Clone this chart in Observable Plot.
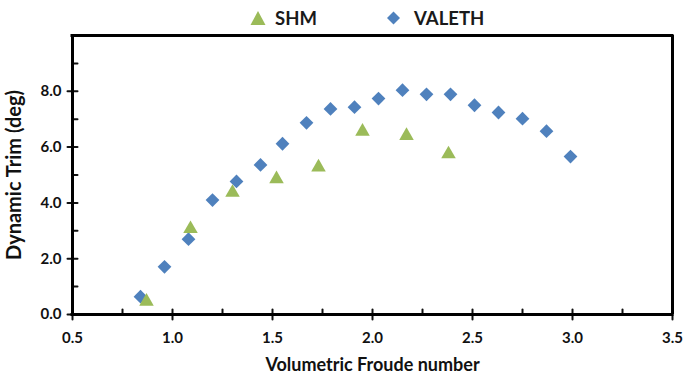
<!DOCTYPE html>
<html>
<head>
<meta charset="utf-8">
<script src="https://cdn.jsdelivr.net/npm/d3@7"></script>
<script src="https://cdn.jsdelivr.net/npm/@observablehq/plot@0.6"></script>
<style>
  html, body { margin: 0; padding: 0; background: #fff; }
  #wrap { position: relative; width: 686px; height: 378px; font-family: Lato, "Open Sans", sans-serif; }
  #legend { position: absolute; top: 5px; left: 0; width: 686px; height: 26px; font-weight: 700; font-size: 18.5px; color: #1a1a1a; }
  .item { position: absolute; top: 0; height: 26px; }
  .item svg { position: absolute; top: 5px; left: 0; }
  .item span { position: absolute; top: 0; line-height: 26px; white-space: nowrap; }
</style>
</head>
<body>
<div id="wrap">
  <div id="legend"></div>
</div>
<script>
// ---- data ----
const seriesNames = ["SHM", "VALETH"];
const shmFroude = [0.87, 1.09, 1.30, 1.52, 1.73, 1.95, 2.17, 2.38];
const shmTrim   = [0.54, 3.14, 4.44, 4.93, 5.35, 6.63, 6.48, 5.82];
const valethFroude = [0.84, 0.96, 1.08, 1.20, 1.32, 1.44, 1.55, 1.67, 1.79, 1.91, 2.03, 2.15, 2.27, 2.39, 2.51, 2.63, 2.75, 2.87, 2.99];
const valethTrim   = [0.64, 1.71, 2.70, 4.10, 4.77, 5.36, 6.12, 6.87, 7.37, 7.43, 7.74, 8.04, 7.89, 7.89, 7.50, 7.24, 7.02, 6.57, 5.66];
const xMajorTicks = [0.5, 1.0, 1.5, 2.0, 2.5, 3.0, 3.5];
const xMinorTicks = [0.75, 1.25, 1.75, 2.25, 2.75, 3.25];
const yMajorTicks = [0, 2, 4, 6, 8];
const yMinorTicks = [1, 3, 5, 7, 9];
const xTitle = "Volumetric Froude number";
const yTitle = "Dynamic Trim (deg)";

const shm = shmFroude.map((x, i) => ({x, y: shmTrim[i]}));
const valeth = valethFroude.map((x, i) => ({x, y: valethTrim[i]}));

const BLUE = "#4F81BD", GREEN = "#9BBB59", INK = "#111";
const FONT = 'Lato, "Open Sans", sans-serif';

const line = {draw(ctx, l) { ctx.moveTo(0, 0); ctx.lineTo(0, -l); }};

const chart = Plot.plot({
  width: 686,
  height: 378,
  marginLeft: 72,
  marginRight: 14,
  marginTop: 35,
  marginBottom: 64,
  style: {fontFamily: FONT, color: INK, background: "#fff"},
  x: {domain: [0.5, 3.5], axis: null},
  y: {domain: [0, 10], axis: null},
  marks: [
    // minor ticks (inward)
    Plot.vector(xMinorTicks, {x: d => d, y: 0, length: 5, rotate: 0, anchor: "start", shape: line, stroke: INK, strokeWidth: 2}),
    Plot.vector(yMinorTicks, {x: 0.5, y: d => d, length: 5, rotate: 90, anchor: "start", shape: line, stroke: INK, strokeWidth: 2}),
    // major ticks (cross)
    Plot.vector(xMajorTicks, {x: d => d, y: 0, length: 10, rotate: 0, anchor: "middle", shape: line, stroke: INK, strokeWidth: 2}),
    Plot.vector(yMajorTicks, {x: 0.5, y: d => d, length: 10, rotate: 90, anchor: "middle", shape: line, stroke: INK, strokeWidth: 2}),
    // box
    Plot.ruleX([0.5, 3.5], {stroke: "#000", strokeWidth: 3}),
    Plot.ruleY([0, 10], {stroke: "#000", strokeWidth: 3, insetLeft: -1.5, insetRight: -1.5}),
    Plot.text(xMajorTicks, {x: d => d, y: 0, text: d => d.toFixed(1), dy: 24, fontSize: 15, fontWeight: 700, fill: INK}),
    Plot.text(yMajorTicks, {x: 0.5, y: d => d, text: d => d.toFixed(1), dx: -11, textAnchor: "end", fontSize: 15, fontWeight: 700, fill: INK}),
    Plot.text([xTitle], {frameAnchor: "bottom", dy: 56, text: d => d, fontSize: 18, fontWeight: 700, fill: INK}),
    Plot.text([yTitle], {frameAnchor: "left", dx: -58, rotate: -90, textAnchor: "middle", text: d => d, fontSize: 20, fontWeight: 700, fill: INK}),
    Plot.dot(valeth, {x: "x", y: "y", symbol: "diamond2", r: 6.2, fill: BLUE}),
    Plot.dot(shm, {x: "x", y: "y", symbol: "triangle", r: 5.4, fill: GREEN, dy: 2})
  ]
});
document.getElementById("wrap").appendChild(chart);

// legend
const legend = document.getElementById("legend");
const shapes = {
  SHM: `<svg width="16" height="16" viewBox="0 0 16 16"><polygon points="8,1 15.5,15 0.5,15" fill="${GREEN}"/></svg>`,
  VALETH: `<svg width="13" height="16" viewBox="0 0 13 16"><polygon points="6.5,1.5 13,8 6.5,14.5 0,8" fill="${BLUE}"/></svg>`
};
const lefts = {SHM: [250, 25], VALETH: [387, 27]};
seriesNames.forEach(n => {
  const d = document.createElement("div");
  d.className = "item";
  d.style.left = lefts[n][0] + "px";
  d.innerHTML = shapes[n] + `<span style="left:${lefts[n][1]}px">${n}</span>`;
  legend.appendChild(d);
});
</script>
</body>
</html>
